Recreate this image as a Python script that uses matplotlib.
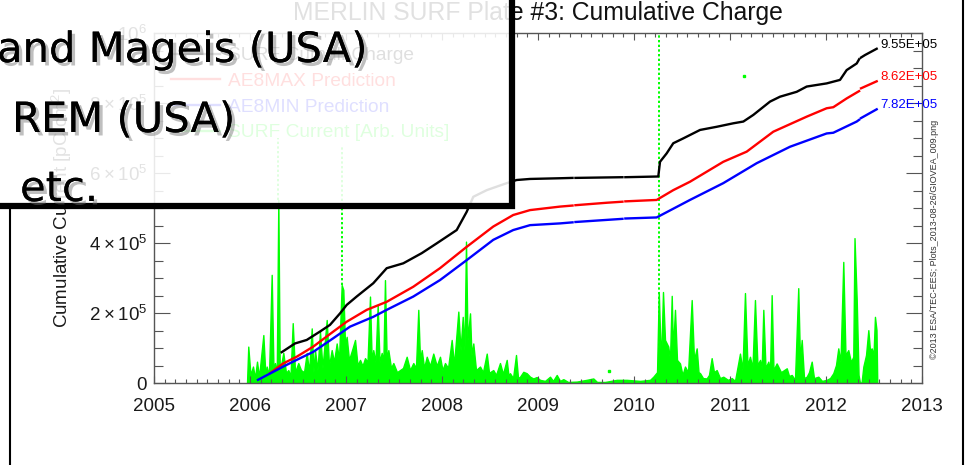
import numpy as np
import matplotlib
matplotlib.use("Agg")
import matplotlib.pyplot as plt
from matplotlib.patches import Rectangle
from matplotlib.lines import Line2D
from matplotlib import patheffects as pe
from matplotlib.ticker import MultipleLocator

plt.rcParams['font.family'] = 'Liberation Sans'
plt.rcParams['mathtext.fontset'] = 'custom'
plt.rcParams['mathtext.rm'] = 'Liberation Sans'
plt.rcParams['mathtext.default'] = 'regular'

# cumulative charge curves (year, value in 1e3 pC/cm^2)
nan = np.nan
surf_t = [2006.33, 2006.469, 2006.591, 2006.729, 2006.833, 2006.938, 2007.007, 2007.111,
          2007.284, 2007.424, 2007.597, 2007.789, 2007.945, 2008.153, 2008.257, 2008.326,
          2008.466, 2008.674, 2008.778, 2008.917, 2009.229, 2009.36, nan, 2009.39, 2009.88,
          nan, 2009.91, 2010.253, 2010.271, 2010.340, 2010.409, 2010.514, 2010.688, 2010.861,
          2011.034, 2011.139, 2011.243, 2011.417, 2011.521, 2011.695, 2011.799, 2012.007,
          2012.146, 2012.215, 2012.320, 2012.345, nan, 2012.365, 2012.406, 2012.528]
surf_q = [88, 113, 123, 147, 166, 199, 223, 247, 285, 328, 342, 371, 399, 437, 489, 532,
          551, 571, 580, 583, 585, 586, nan, 586, 588, nan, 588, 590, 632, 656, 685, 699,
          723, 732, 742, 747, 766, 804, 818, 832, 847, 856, 866, 894, 913, 925, nan, 930,
          937, 955]

max_t = [2006.208, 2006.347, 2006.486, 2006.659, 2006.868, 2007.007, 2007.216, 2007.424,
         2007.701, 2007.979, 2008.257, 2008.534, 2008.742, 2008.917, 2009.229, 2009.36, nan,
         2009.39, 2009.716, 2009.88, nan, 2009.91, 2010.236, 2010.409, 2010.583, 2010.930,
         2011.174, 2011.451, 2011.799, 2012.007, 2012.076, 2012.215, 2012.345, nan, 2012.365,
         2012.528]
max_q = [28, 56, 75, 104, 147, 175, 209, 232, 275, 328, 389, 447, 480, 494, 504, 507, nan,
         508, 515, 518, nan, 519, 523, 551, 575, 632, 661, 718, 761, 785, 788, 813, 834, nan,
         842, 862]

min_t = [2006.083, 2006.347, 2006.486, 2006.659, 2006.868, 2007.042, 2007.284, 2007.424,
         2007.701, 2007.979, 2008.257, 2008.534, 2008.742, 2008.917, 2009.229, 2009.36, nan,
         2009.39, 2009.716, 2009.88, nan, 2009.91, 2010.236, 2010.583, 2010.930, 2011.278,
         2011.625, 2012.007, 2012.076, 2012.320, 2012.345, nan, 2012.365, 2012.528]
min_q = [9, 47, 66, 89, 128, 161, 189, 209, 247, 294, 351, 409, 437, 451, 456, 459, nan,
         460, 466, 469, nan, 470, 473, 523, 571, 628, 675, 713, 715, 747, 752, nan, 757, 782]

# SURF current envelope [arb. units, same scale x1e3]
cur_t = [2005.969, 2005.982, 2006.005, 2006.031, 2006.052, 2006.073, 2006.094, 2006.139,
         2006.161, 2006.174, 2006.198, 2006.226, 2006.245, 2006.260, 2006.279, 2006.295,
         2006.310, 2006.347, 2006.375, 2006.399, 2006.422, 2006.445, 2006.469, 2006.503,
         2006.531, 2006.563, 2006.591, 2006.615, 2006.643, 2006.661, 2006.677, 2006.703,
         2006.729, 2006.755, 2006.799, 2006.823, 2006.851, 2006.875, 2006.903, 2006.927,
         2006.955, 2006.972, 2006.990, 2007.007, 2007.031, 2007.063, 2007.094, 2007.120,
         2007.146, 2007.172, 2007.198, 2007.224, 2007.250, 2007.268, 2007.284, 2007.307,
         2007.330, 2007.349, 2007.372, 2007.389, 2007.406, 2007.424, 2007.441, 2007.469,
         2007.493, 2007.531, 2007.563, 2007.594, 2007.632, 2007.667, 2007.701, 2007.729,
         2007.753, 2007.771, 2007.789, 2007.813, 2007.841, 2007.875, 2007.909, 2007.945,
         2007.979, 2008.005, 2008.031, 2008.063, 2008.101, 2008.125, 2008.170, 2008.193,
         2008.216, 2008.234, 2008.250, 2008.266, 2008.292, 2008.307, 2008.326, 2008.354,
         2008.396, 2008.427, 2008.466, 2008.490, 2008.534, 2008.563, 2008.604, 2008.635,
         2008.674, 2008.693, 2008.708, 2008.740, 2008.771, 2008.792, 2008.813, 2008.847,
         2008.882, 2008.917, 2008.951, 2008.986, 2009.021, 2009.073, 2009.125, 2009.156,
         2009.195, 2009.229, 2009.264, 2009.313, 2009.403, 2009.507, 2009.576, 2009.615,
         2009.698, 2009.820, 2009.924, 2010.063, 2010.167, 2010.201, 2010.240, 2010.258,
         2010.281, 2010.302, 2010.323, 2010.357, 2010.375, 2010.393, 2010.406, 2010.427,
         2010.448, 2010.479, 2010.505, 2010.531, 2010.563, 2010.601, 2010.625, 2010.653,
         2010.672, 2010.688, 2010.719, 2010.757, 2010.781, 2010.809, 2010.833, 2010.861,
         2010.896, 2010.930, 2010.979, 2011.018, 2011.052, 2011.104, 2011.130, 2011.156,
         2011.182, 2011.208, 2011.234, 2011.260, 2011.286, 2011.313, 2011.330, 2011.347,
         2011.370, 2011.399, 2011.417, 2011.434, 2011.453, 2011.486, 2011.531, 2011.591,
         2011.615, 2011.643, 2011.677, 2011.711, 2011.729, 2011.747, 2011.771, 2011.799,
         2011.823, 2011.851, 2011.875, 2011.920, 2011.958, 2012.007, 2012.042, 2012.076,
         2012.104, 2012.128, 2012.151, 2012.180, 2012.203, 2012.232, 2012.260, 2012.284,
         2012.297, 2012.320, 2012.339, 2012.354, 2012.370, 2012.389, 2012.417, 2012.441,
         2012.458, 2012.476, 2012.495, 2012.510, 2012.526, 2012.534]
cur_h = [0, 104, 23, 47, 14, 61, 17, 137, 20, 47, 23, 309, 31, 57, 31, 523, 31, 86, 29, 37,
         20, 171, 31, 57, 37, 31, 86, 31, 156, 31, 94, 37, 147, 43, 180, 49, 94, 60, 113, 66,
         280, 266, 109, 132, 66, 94, 123, 51, 66, 49, 71, 60, 247, 60, 94, 60, 223, 60, 86,
         60, 294, 66, 94, 43, 57, 31, 37, 43, 75, 37, 57, 43, 209, 66, 94, 43, 75, 49, 84,
         49, 75, 37, 57, 43, 123, 51, 204, 94, 189, 94, 404, 123, 199, 80, 113, 37, 47, 31,
         84, 29, 37, 23, 57, 26, 66, 20, 28, 14, 80, 14, 18, 32, 28, 18, 13, 17, 9, 6, 18,
         6, 23, 6, 11, 3, 4, 9, 13, 3, 3, 9, 9, 6, 9, 18, 31, 260, 51, 260, 123, 104, 66,
         249, 94, 209, 66, 56, 23, 47, 31, 237, 66, 99, 31, 28, 14, 13, 23, 71, 31, 37, 14,
         18, 9, 14, 6, 84, 37, 257, 51, 75, 43, 237, 51, 66, 43, 209, 43, 61, 37, 251, 37,
         56, 31, 42, 20, 23, 9, 271, 66, 123, 14, 18, 31, 61, 14, 18, 6, 9, 14, 28, 51, 99,
         60, 346, 80, 94, 60, 75, 414, 237, 23, 0, 0, 47, 80, 151, 94, 99, 80, 189, 151, 0]

# saturated samples drawn as sparse dotted spikes
spike_t = [2006.295, 2006.955, 2010.258]
spike_lo = [523, 280, 0]
spike_hi = [700, 680, 1020]
dot_t = [2009.74, 2011.15]
dot_h = [35, 877]

year_ticks = list(range(2005, 2014))
y_ticks = [0, 2e5, 4e5, 6e5, 8e5, 1e6]
y_labels = ['0', r'$2\times10^{5}$', r'$4\times10^{5}$', r'$6\times10^{5}$',
            r'$8\times10^{5}$', r'$10^{6}$']

W, H = 970, 465
fig = plt.figure(figsize=(W / 100, H / 100), dpi=100)


def fx(px):
    return px / W


def fy(py):
    return 1 - py / H


ax = fig.add_axes([fx(154), fy(383), 768 / W, 350 / H])

green = '#00ff00'
ax.fill_between(cur_t, 0, np.array(cur_h) * 1e3, color=green, lw=1.0, zorder=1)
ax.vlines(spike_t, np.array(spike_lo) * 1e3, np.array(spike_hi) * 1e3, colors=green,
          linestyles=(0, (1.2, 1.2)), lw=1.4, zorder=1)
ax.plot(dot_t, np.array(dot_h) * 1e3, 's', ms=1.5, color=green, zorder=1)

l1, = ax.plot(surf_t, np.array(surf_q) * 1e3, color='black', lw=1.7, zorder=3)
l2, = ax.plot(max_t, np.array(max_q) * 1e3, color='red', lw=1.7, zorder=3)
l3, = ax.plot(min_t, np.array(min_q) * 1e3, color='blue', lw=1.7, zorder=3)

# final values written at the end of each curve
for t, q, c in [(surf_t, surf_q, 'black'), (max_t, max_q, 'red'), (min_t, min_q, 'blue')]:
    ax.annotate('%.2fE+05' % (q[-1] / 100.0), xy=(t[-1], q[-1] * 1e3), xytext=(2.5, 3),
                textcoords='offset points', va='center', ha='left', color=c,
                fontsize=9.5, zorder=4, annotation_clip=False)

ax.set_xlim(2005, 2013)
ax.set_ylim(0, 1e6)
ax.set_xticks(year_ticks)
ax.set_xticklabels([str(y) for y in year_ticks])
ax.xaxis.set_minor_locator(MultipleLocator(1 / 9))
ax.set_yticks(y_ticks)
ax.set_yticklabels(y_labels)
ax.yaxis.set_minor_locator(MultipleLocator(5e4))

for s in ax.spines.values():
    s.set_color('#555555')
    s.set_linewidth(1.0)
ax.tick_params(which='both', direction='in', top=True, right=True, colors='#555555',
               width=0.8, labelcolor='#1a1a1a', labelsize=13.5)
ax.tick_params(axis='x', which='major', length=5, pad=11)
ax.tick_params(axis='x', which='minor', length=3)
ax.tick_params(axis='y', which='major', length=11.5, pad=5)
ax.tick_params(axis='y', which='minor', length=6.5)

leg = ax.legend([l1, l2, l3, Line2D([], [], color=green, lw=1.7)],
                ['SURF Cumul. Charge', 'AE8MAX Prediction', 'AE8MIN Prediction',
                 'SURF Current [Arb. Units]'],
                loc='upper left', bbox_to_anchor=(fx(171), fy(47)),
                bbox_transform=fig.transFigure, frameon=False, fontsize=13.8,
                labelcolor='linecolor', handlelength=2.56, handletextpad=0.42,
                borderpad=0, borderaxespad=0, labelspacing=0.43)

fig.text(fx(538), fy(20), 'MERLIN SURF Plate #3: Cumulative Charge', ha='center',
         va='baseline', fontsize=17.8, color='#111111')
fig.text(fx(62), fy(208), 'Cumulative Current [pC/cm$^{2}$]', rotation=90, ha='center',
         va='center', fontsize=13.5, color='#1a1a1a')
fig.text(fx(935), fy(239), '\u00a92013 ESA/TEC-EES; Plots_2013-08-26/GIOVEA_009.png',
         rotation=90, ha='center', va='center', fontsize=6.5, color='#333333')

# slide frame lines
fig.add_artist(Line2D([fx(10), fx(10)], [fy(206), 0], color='black', lw=1.5,
                      transform=fig.transFigure))
fig.add_artist(Line2D([fx(963), fx(963)], [0, 1], color='black', lw=1.5,
                      transform=fig.transFigure))

# callout box laid over the plot
box = Rectangle((fx(-20), fy(206)), (512 + 20) / W, (206 + 20) / H,
                transform=fig.transFigure, facecolor=(1, 1, 1, 0.88),
                edgecolor='black', lw=4.5, zorder=10)
fig.add_artist(box)

shadow = [pe.withSimplePatchShadow(offset=(2.5, -2.5), shadow_rgbFace='0.45', alpha=0.45),
          pe.Normal()]
for px, py, s in [(-3, 62, 'and Mageis (USA)'), (12, 132, 'REM (USA)'), (20, 201, 'etc.')]:
    fig.text(fx(px), fy(py), s, fontsize=30, family='DejaVu Sans', va='baseline',
             ha='left', color='black', zorder=11, path_effects=shadow)

fig.savefig('out.png', dpi=100)
